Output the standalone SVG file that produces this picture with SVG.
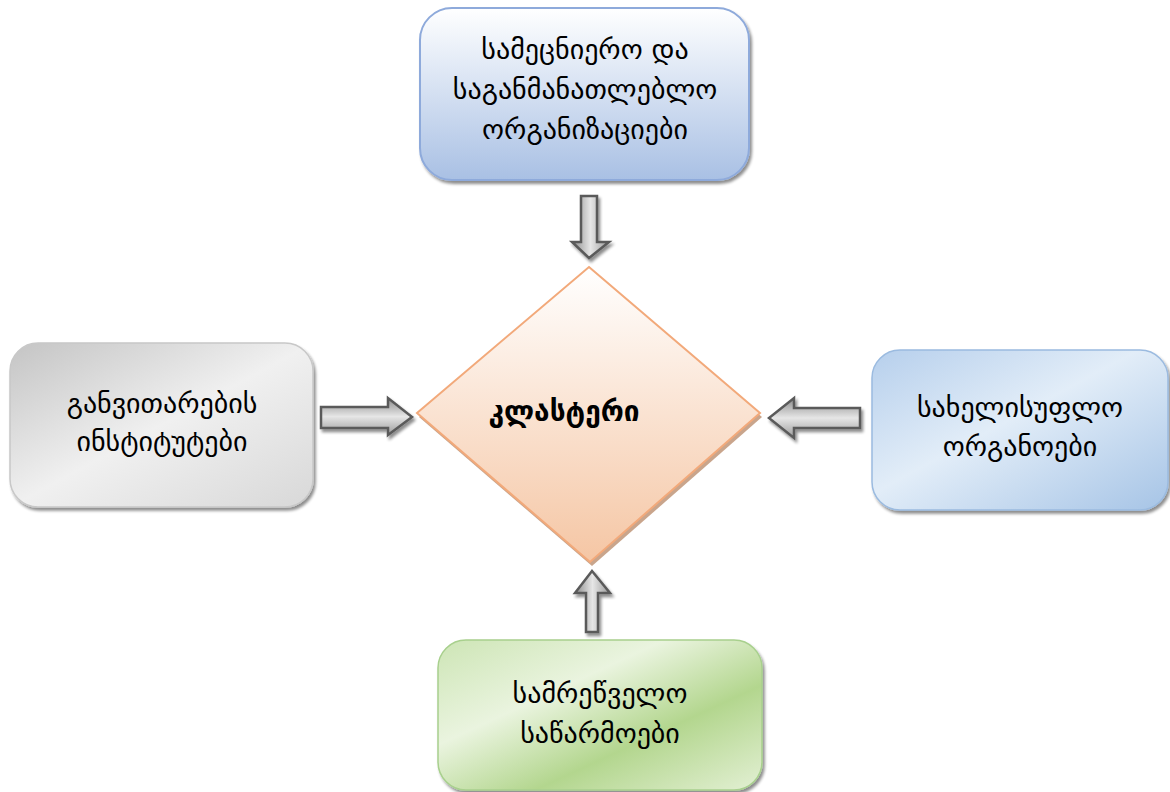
<svg xmlns="http://www.w3.org/2000/svg" width="1170" height="792" viewBox="0 0 1170 792">
<defs>
<linearGradient id="gBlueTop" x1="0" y1="0" x2="0" y2="1"><stop offset="0" stop-color="#ffffff"/><stop offset="1" stop-color="#a9c0e4"/></linearGradient>
<linearGradient id="gGray" x1="0" y1="0" x2="1" y2="1"><stop offset="0" stop-color="#c4c4c4"/><stop offset="0.5" stop-color="#f0f0f0"/><stop offset="1" stop-color="#d8d8d8"/></linearGradient>
<linearGradient id="gBlue" x1="0" y1="0" x2="1" y2="1"><stop offset="0" stop-color="#b6cfec"/><stop offset="0.45" stop-color="#e2edf8"/><stop offset="1" stop-color="#a6c4e6"/></linearGradient>
<linearGradient id="gGreen" x1="0" y1="0" x2="1" y2="1"><stop offset="0" stop-color="#cde5b5"/><stop offset="0.35" stop-color="#eaf4df"/><stop offset="0.65" stop-color="#b3d68e"/><stop offset="1" stop-color="#e3f0d4"/></linearGradient>
<linearGradient id="gPeach" x1="0" y1="0" x2="0" y2="1"><stop offset="0" stop-color="#ffffff"/><stop offset="1" stop-color="#f5c6a4"/></linearGradient>
<linearGradient id="gArrV" x1="0" y1="0" x2="1" y2="0"><stop offset="0" stop-color="#8a8a8a"/><stop offset="0.5" stop-color="#e6e6e6"/><stop offset="1" stop-color="#9a9a9a"/></linearGradient>
<linearGradient id="gArrH" x1="0" y1="0" x2="0" y2="1"><stop offset="0" stop-color="#8a8a8a"/><stop offset="0.5" stop-color="#e6e6e6"/><stop offset="1" stop-color="#9a9a9a"/></linearGradient>
<filter id="sh" x="-10%" y="-10%" width="130%" height="130%"><feGaussianBlur in="SourceAlpha" stdDeviation="1.5"/><feOffset dx="2" dy="3"/><feComponentTransfer><feFuncA type="linear" slope="0.45"/></feComponentTransfer><feMerge><feMergeNode/><feMergeNode in="SourceGraphic"/></feMerge></filter>
</defs>
<style>
.lbl{font-family:"DejaVu Sans",sans-serif;font-size:28px;fill:#000;text-anchor:middle}
.arr{stroke:#5a5a5a;stroke-width:2.5;stroke-linejoin:miter}
</style>
<rect width="1170" height="792" fill="#fff"/>
<g id="connectors">
<polygon class="arr" filter="url(#sh)" fill="url(#gArrV)" points="581,196 597,196 597,242 609,242 589,258 572,242 581,242"/>
<polygon class="arr" filter="url(#sh)" fill="url(#gArrH)" points="321,407 388,407 388,398 412,417 388,435 388,428 321,428"/>
<polygon class="arr" filter="url(#sh)" fill="url(#gArrH)" points="860,408 794,408 794,398 769,418 794,438 794,428 860,428"/>
<polygon class="arr" filter="url(#sh)" fill="url(#gArrV)" points="586,632 598,632 598,593 610,593 592,571 575,593 586,593"/>
</g>
<g id="node-top">
<rect x="420" y="8" width="329" height="172" rx="32" fill="url(#gBlueTop)" stroke="#8eaadb" stroke-width="2" filter="url(#sh)"/>
<text class="lbl" x="585" y="59">სამეცნიერო და</text>
<text class="lbl" x="585" y="99">საგანმანათლებლო</text>
<text class="lbl" x="585" y="139">ორგანიზაციები</text>
</g>
<g id="node-left">
<rect x="10" y="343" width="303" height="164" rx="28" fill="url(#gGray)" stroke="#c8c8c8" stroke-width="1.5" filter="url(#sh)"/>
<text class="lbl" x="162" y="413">განვითარების</text>
<text class="lbl" x="162" y="451">ინსტიტუტები</text>
</g>
<g id="node-right">
<rect x="872" y="350" width="296" height="160" rx="28" fill="url(#gBlue)" stroke="#9bbbe0" stroke-width="1.5" filter="url(#sh)"/>
<text class="lbl" x="1020" y="417">სახელისუფლო</text>
<text class="lbl" x="1020" y="456">ორგანოები</text>
</g>
<g id="node-bottom">
<rect x="438" y="640" width="324" height="150" rx="28" fill="url(#gGreen)" stroke="#a8d08d" stroke-width="1.5" filter="url(#sh)"/>
<text class="lbl" x="600" y="703">სამრეწველო</text>
<text class="lbl" x="600" y="743">საწარმოები</text>
</g>
<g id="node-center">
<polygon points="591,271 762,417 592,566 419,417" fill="#c9a58c"/>
<polygon points="589,267 760,413 590,562 417,413" fill="url(#gPeach)" stroke="#f2a97a" stroke-width="2"/>
<text x="564" y="421" style="font-family:'DejaVu Sans',sans-serif;font-size:28px;font-weight:bold;fill:#000;text-anchor:middle">კლასტერი</text>
</g>
</svg>
